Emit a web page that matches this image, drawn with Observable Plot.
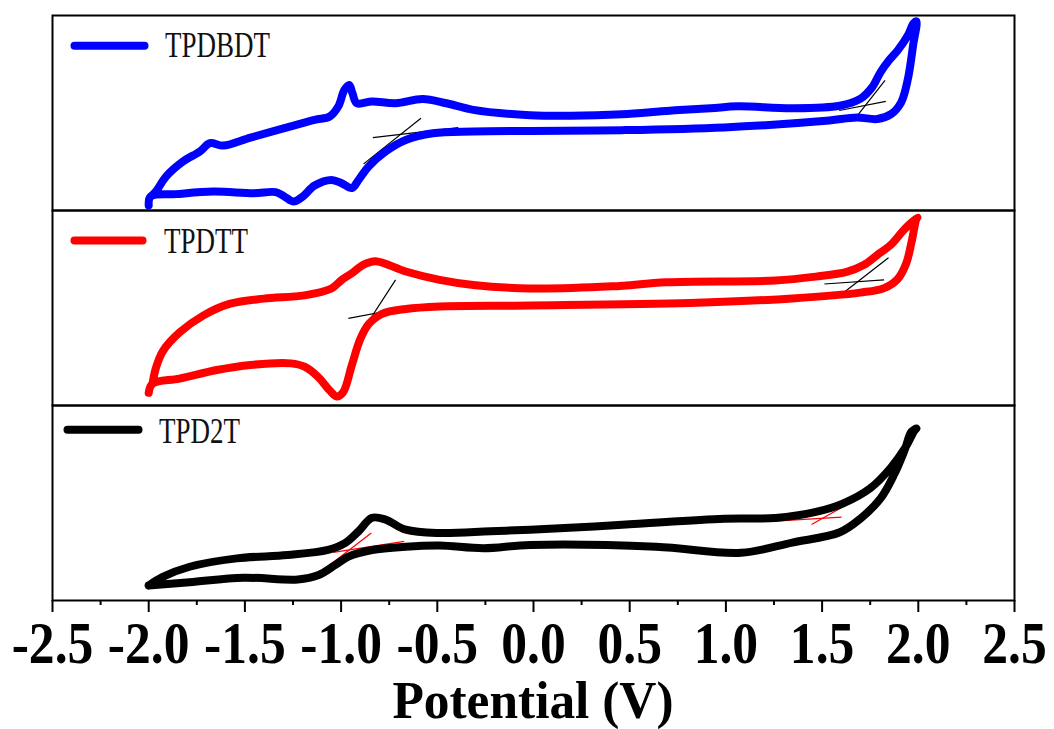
<!DOCTYPE html>
<html><head><meta charset="utf-8">
<script src="https://cdn.jsdelivr.net/npm/d3@7"></script>
<script src="https://cdn.jsdelivr.net/npm/@observablehq/plot@0.6"></script>
<style>body{margin:0;background:#fff} #chart svg{display:block}</style>
</head><body><div id="chart"></div>
<script>
// Panels (top to bottom) and their colours
const series = ["TPDBDT", "TPDTT", "TPD2T"];
const colors = ["#0000ff", "#ff0000", "#000000"];
const tangentColors = ["#000000", "#000000", "#ff0000"];

// [potential (V), current (relative units, 0-100 per panel)] in scan order
const tpdbdt = [[-2.00,2.6],[-1.99,7.2],[-1.857,8.4],[-1.664,9.7],[-1.454,8.9],[-1.340,9.4],[-1.295,7.2],[-1.247,4.6],[-1.199,7.2],[-1.138,12.8],[-1.050,15.7],[-0.997,14.0],[-0.944,11.5],[-0.909,15.7],[-0.857,22.6],[-0.769,30.3],[-0.664,36.2],[-0.523,39.6],[-0.313,40.5],[-0.018,40.8],[0.461,41.2],[0.991,42.6],[1.521,46.0],[1.681,47.7],[1.787,46.9],[1.858,49.4],[1.911,55.5],[1.946,67.5],[1.973,84.7],[1.990,97.0],
  [1.975,96.0],[1.946,89.9],[1.893,82.1],[1.848,77.0],[1.804,71.0],[1.760,63.2],[1.698,57.2],[1.592,53.7],[1.345,52.4],[1.062,53.4],[0.920,52.4],[0.708,51.2],[0.461,49.4],[0.195,48.6],[-0.018,48.9],[-0.313,51.6],[-0.453,55.0],[-0.576,57.2],[-0.717,55.0],[-0.839,55.9],[-0.918,55.0],[-0.941,60.1],[-0.958,64.4],[-0.983,61.8],[-1.015,53.3],[-1.059,48.2],[-1.138,46.5],[-1.295,42.2],[-1.471,37.4],[-1.612,33.3],[-1.682,34.5],[-1.734,30.3],[-1.822,25.1],[-1.910,17.4],[-1.963,9.7],[-1.989,7.2]];

const tpdtt = [[-2.00,6.5],[-1.980,11.2],[-1.840,13.8],[-1.646,18.2],[-1.471,20.8],[-1.261,21.6],[-1.190,19.9],[-1.120,14.7],[-1.059,7.7],[-1.023,4.6],[-0.989,6.9],[-0.944,20.8],[-0.901,33.9],[-0.857,41.7],[-0.787,47.0],[-0.664,49.5],[-0.488,50.8],[-0.018,51.3],[0.814,52.6],[1.345,54.9],[1.698,57.9],[1.822,60.2],[1.893,64.9],[1.937,72.8],[1.964,83.4],[1.990,95.7],[1.995,96.5],
  [1.928,90.4],[1.858,82.5],[1.787,77.2],[1.716,72.0],[1.628,68.5],[1.468,66.1],[1.257,64.1],[0.691,63.2],[0.408,61.1],[-0.018,60.0],[-0.313,61.8],[-0.488,64.4],[-0.664,68.7],[-0.821,74.0],[-0.883,72.2],[-0.944,67.8],[-0.997,64.4],[-1.050,60.0],[-1.190,56.5],[-1.401,54.8],[-1.576,52.2],[-1.717,46.1],[-1.840,37.4],[-1.927,27.8],[-1.963,19.1],[-1.980,11.2]];

const tpd2t = [[-2.00,7.7],[-1.787,9.4],[-1.506,11.7],[-1.225,10.8],[-1.120,12.9],[-1.032,18.1],[-0.962,22.5],[-0.839,25.9],[-0.664,27.6],[-0.488,28.2],[-0.260,26.8],[-0.018,28.5],[0.637,27.6],[1.079,24.5],[1.345,29.7],[1.592,35.0],[1.698,41.9],[1.804,52.4],[1.875,64.7],[1.928,76.9],[1.964,86.5],[1.990,88.2],
  [1.981,87.3],[1.928,77.7],[1.858,68.2],[1.751,57.6],[1.610,49.8],[1.468,45.4],[1.257,42.3],[0.991,41.9],[0.461,38.8],[-0.018,36.3],[-0.225,35.5],[-0.488,34.6],[-0.664,36.3],[-0.769,41.5],[-0.839,42.4],[-0.909,35.5],[-0.980,29.4],[-1.068,25.9],[-1.278,23.3],[-1.542,21.6],[-1.787,17.3],[-1.927,12.1],[-2.00,7.7]];

// Onset tangent lines [V1, I1, V2, I2]
const tangentsTPDBDT = [[-0.883,23.9,-0.585,47.3],[-0.835,37.4,-0.391,42.5],[1.672,47.2,1.827,66.7],[1.589,51.3,1.831,56.0]];
const tangentsTPDTT = [[-0.883,39.1,-0.717,64.4],[-0.962,44.7,-0.655,50.4],[1.606,57.4,1.845,75.8],[1.512,62.3,1.822,64.4]];
const tangentsTPD2T = [[-1.071,17.3,-0.843,34.6],[-1.041,24.7,-0.672,30.3],[1.235,40.6,1.601,42.8],[1.445,39.0,1.725,54.5]];

const majorTicks = [-2.5,-2.0,-1.5,-1.0,-0.5,0.0,0.5,1.0,1.5,2.0,2.5];
const tickLabels = ["-2.5","-2.0","-1.5","-1.0","-0.5","0.0","0.5","1.0","1.5","2.0","2.5"];
const minorTicks = [-2.25,-1.75,-1.25,-0.75,-0.25,0.25,0.75,1.25,1.75,2.25];
const xLabel = "Potential (V)";

const curves = [tpdbdt, tpdtt, tpd2t];
const tangents = [tangentsTPDBDT, tangentsTPDTT, tangentsTPD2T];

const marks = [];
series.forEach((s, i) => {
  marks.push(Plot.link(tangents[i], {x1: d => d[0], y1: d => d[1], x2: d => d[2], y2: d => d[3], fy: () => s, stroke: tangentColors[i], strokeWidth: 1.2}));
  marks.push(Plot.line(curves[i], {x: d => d[0], y: d => d[1], fy: () => s, stroke: colors[i], strokeWidth: 8, curve: "catmull-rom", strokeLinejoin: "round", strokeLinecap: "round"}));
});
marks.push(Plot.frame({stroke: "#000", strokeWidth: 2}));
marks.push(Plot.axisX(majorTicks, {anchor: "bottom", tickSize: 12, tickPadding: 8, strokeWidth: 2, label: null,
  tickFormat: d => tickLabels[majorTicks.indexOf(d)], fontSize: 60, fontWeight: "bold"}));
marks.push(Plot.axisX(minorTicks, {anchor: "bottom", tickSize: 5, strokeWidth: 2, label: null, tickFormat: () => ""}));

const plot = Plot.plot({
  width: 1054, height: 729,
  marginLeft: 52, marginRight: 40, marginTop: 14, marginBottom: 128,
  style: {fontFamily: "'Liberation Serif', 'Times New Roman', serif", background: "#fff", color: "#000"},
  x: {domain: [-2.5, 2.5]},
  y: {domain: [0, 100], axis: null},
  fy: {domain: series, padding: 0, axis: null},
  marks
});
document.getElementById("chart").append(plot);

const svg = d3.select(plot.tagName.toLowerCase() === "svg" ? plot : plot.querySelector("svg"));

function squeeze(el, sx) {
  const t = el.getAttribute("transform");
  if (t) el.setAttribute("transform", t + ` scale(${sx},1)`);
  else {
    const x = parseFloat(el.getAttribute("x")) || 0;
    el.removeAttribute("x");
    el.setAttribute("transform", `translate(${x},0) scale(${sx},1)`);
  }
}
svg.selectAll('g[aria-label="x-axis tick label"] text').each(function() {
  this.setAttribute("font-size", 60);
  this.setAttribute("font-weight", "bold");
  squeeze(this, 0.86);
});
svg.selectAll('g[aria-label="x-axis tick label"]').attr("font-size", 60).attr("font-weight", "bold");

// axis title
const xs = plot.scale("x");
const cx = (xs.range[0] + xs.range[1]) / 2;
svg.append("text").text(xLabel)
  .attr("text-anchor", "middle").attr("font-size", 53).attr("font-weight", "bold")
  .attr("font-family", "'Liberation Serif', 'Times New Roman', serif")
  .attr("transform", `translate(${cx},718) scale(0.97,1)`);

// in-panel legends
const legendPos = [
  {x1: 74.5, x2: 144.5, ly: 45.7, tx: 165, ty: 57.3},
  {x1: 74.5, x2: 142.5, ly: 240.6, tx: 164, ty: 253.4},
  {x1: 67.5, x2: 138.5, ly: 429.7, tx: 159, ty: 443.3}
];
series.forEach((s, i) => {
  const p = legendPos[i];
  svg.append("line").attr("x1", p.x1).attr("x2", p.x2).attr("y1", p.ly).attr("y2", p.ly)
    .attr("stroke", colors[i]).attr("stroke-width", 8).attr("stroke-linecap", "round");
  svg.append("text").text(s).attr("font-size", 36)
    .attr("text-anchor", "start")
    .attr("font-family", "'Liberation Serif', 'Times New Roman', serif")
    .attr("fill", "#111")
    .attr("transform", `translate(${p.tx},${p.ty}) scale(0.75,1)`);
});
</script></body></html>
